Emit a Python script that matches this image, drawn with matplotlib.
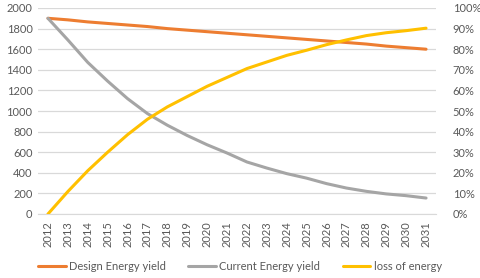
import matplotlib
matplotlib.use("Agg")
import matplotlib.pyplot as plt
from matplotlib.ticker import FuncFormatter, MultipleLocator

years = [str(y) for y in range(2012, 2032)]
design = [1900, 1885, 1865, 1850, 1835, 1820, 1800, 1785, 1770, 1755,
          1740, 1725, 1710, 1695, 1680, 1665, 1650, 1630, 1615, 1600]
current = [1900, 1690, 1472, 1290, 1120, 975, 862, 762, 672, 592,
           505, 446, 392, 348, 295, 252, 220, 195, 178, 155]
loss = [0.0, 10.9, 21.0, 30.0, 38.5, 46.0, 52.0, 57.0, 62.0, 66.3,
        70.6, 73.8, 77.0, 79.5, 82.2, 84.5, 86.6, 88.0, 89.0, 90.2]

C_DESIGN = "#ED7D31"
C_CURRENT = "#A5A5A5"
C_LOSS = "#FFC000"
TXT = "#595959"

plt.rcParams['font.family'] = ['Lato', 'DejaVu Sans']

fig = plt.figure(figsize=(4.8, 2.78), dpi=100)
ax = fig.add_axes([38/480, 1-214/278, 398/480, 206/278])
ax2 = ax.twinx()

x = list(range(len(years)))
l1, = ax.plot(x, design, color=C_DESIGN, lw=2.2, solid_capstyle='round', label="Design Energy yield", zorder=3)
l2, = ax.plot(x, current, color=C_CURRENT, lw=2.2, solid_capstyle='round', label="Current Energy yield", zorder=3)
l3, = ax2.plot(x, loss, color=C_LOSS, lw=2.2, solid_capstyle='round', label="loss of energy", zorder=3)

ax.set_xlim(-0.5, len(years) - 0.5)
ax.set_ylim(0, 2000)
ax2.set_ylim(0, 100)
ax.yaxis.set_major_locator(MultipleLocator(200))
ax2.yaxis.set_major_locator(MultipleLocator(10))
ax2.yaxis.set_major_formatter(FuncFormatter(lambda v, p: f"{int(round(v))}%"))

ax.set_xticks(x)
ax.set_xticklabels(years, rotation=90)
ax.grid(axis='y', color="#D9D9D9", lw=0.9)
ax.set_axisbelow(True)

for a in (ax, ax2):
    for s in a.spines.values():
        s.set_visible(False)
    a.tick_params(length=0, colors=TXT, labelsize=8)
ax.spines['bottom'].set_visible(True)
ax.spines['bottom'].set_color("#D9D9D9")
ax.tick_params(axis='y', pad=4)
ax.tick_params(axis='x', pad=5)
ax2.tick_params(axis='y', pad=12)

leg = fig.legend(handles=[l1, l2, l3], loc='center', bbox_to_anchor=(0.5, 1-266/278),
                 ncol=3, frameon=False, fontsize=8, handlelength=2.5,
                 handletextpad=0.3, columnspacing=2.0)
for t in leg.get_texts():
    t.set_color(TXT)

fig.savefig("out.png", dpi=100)
